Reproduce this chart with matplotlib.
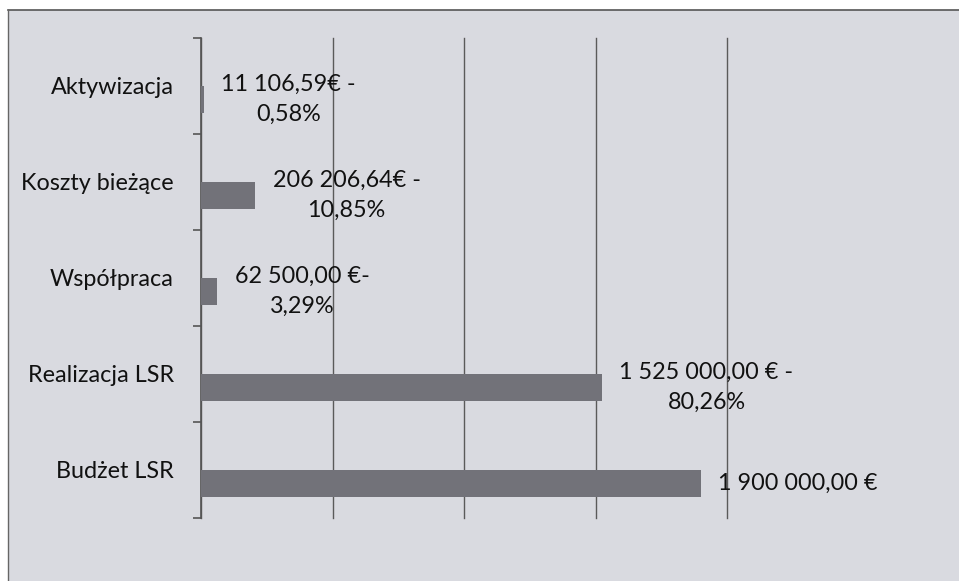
import matplotlib
matplotlib.use("Agg")
import matplotlib.pyplot as plt
from matplotlib.patches import Rectangle

categories = ["Budżet LSR", "Realizacja LSR", "Współpraca", "Koszty bieżące", "Aktywizacja"]
values = [1900000.00, 1525000.00, 62500.00, 206206.64, 11106.59]
labels = ["1 900 000,00 €", "1 525 000,00 € -\n80,26%", "62 500,00 €-\n3,29%",
          "206 206,64€ -\n10,85%", "11 106,59€ -\n0,58%"]
x_ticks = [0, 500000, 1000000, 1500000, 2000000]

W, H = 959, 581
bg = "#d9dae0"
fig = plt.figure(figsize=(W / 100, H / 100), dpi=100, facecolor=bg)
fig.patches.append(Rectangle((0, 1 - 10 / H), 1, 10 / H, transform=fig.transFigure,
                             facecolor="white", edgecolor="none", zorder=-5))
fig.patches.append(Rectangle((0, 0), 8 / W, 1, transform=fig.transFigure,
                             facecolor="white", edgecolor="none", zorder=-5))
fig.add_artist(plt.Line2D([8 / W, 1], [1 - 10 / H, 1 - 10 / H], transform=fig.transFigure,
                          color="#555555", lw=1.2, zorder=-4))
fig.add_artist(plt.Line2D([8 / W, 8 / W], [0, 1 - 10 / H], transform=fig.transFigure,
                          color="#666666", lw=1.0, zorder=-4))

ax = fig.add_axes([201 / W, 1 - 518 / H, 526 / W, 480 / H])
ax.set_facecolor("none")
ys = list(range(len(categories)))
bar_off = 0.14
ax.barh([y - bar_off for y in ys], values, height=0.29, color="#727279", zorder=3)

ax.set_xlim(0, 2000000)
ax.set_ylim(-0.5, 4.5)
ax.set_xticks(x_ticks)
ax.xaxis.grid(True, color="#5a5a5a", lw=1.0, zorder=1)
for gl in ax.get_xgridlines():
    gl.set_clip_on(False)
ax.tick_params(axis="x", length=0, labelbottom=False)
for s in ["top", "right", "bottom"]:
    ax.spines[s].set_visible(False)
ax.spines["left"].set_color("#555555")
ax.spines["left"].set_linewidth(1.2)

font = "Lato"
fs = 16.8
ax.set_yticks(ys)
ax.set_yticklabels(categories, fontsize=fs, family=font, color="#111111")
ax.set_yticks([y + 0.5 for y in [-1] + ys], minor=True)
ax.tick_params(axis="y", which="major", length=0, pad=19.5)
ax.tick_params(axis="y", which="minor", length=6, width=1.2, color="#555555", direction="out")

for y, v, lab in zip(ys, values, labels):
    ax.annotate(lab, xy=(v, y - bar_off), xytext=(12.5, 0), textcoords="offset points",
                ha="left", va="center", multialignment="center",
                fontsize=fs, family=font, color="#111111", linespacing=1.55, zorder=4)

fig.savefig("out.png", dpi=100, facecolor=bg)
